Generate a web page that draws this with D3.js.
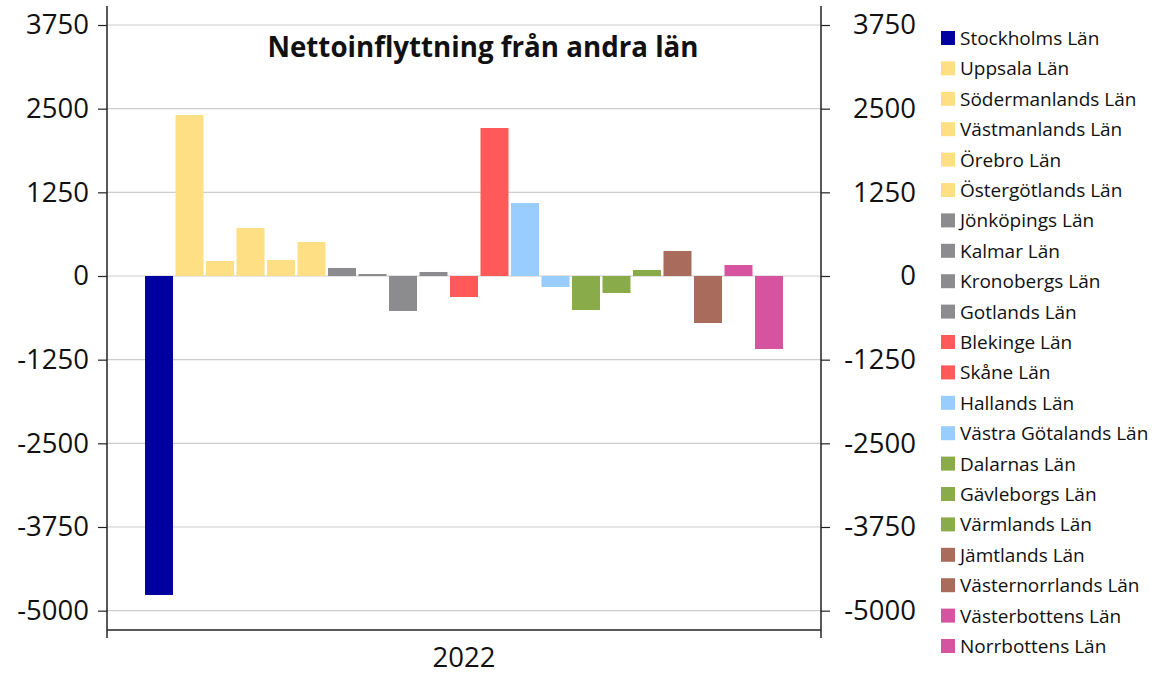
<!DOCTYPE html>
<html>
<head>
<meta charset="utf-8">
<script src="https://cdn.jsdelivr.net/npm/d3@7"></script>
<style>
  body { margin: 0; background: #fff; }
  svg { font-family: "Open Sans", "Noto Sans", sans-serif; }
</style>
</head>
<body>
<script>
const regions = ["Stockholms Län", "Uppsala Län", "Södermanlands Län", "Västmanlands Län", "Örebro Län",
  "Östergötlands Län", "Jönköpings Län", "Kalmar Län", "Kronobergs Län", "Gotlands Län", "Blekinge Län",
  "Skåne Län", "Hallands Län", "Västra Götalands Län", "Dalarnas Län", "Gävleborgs Län", "Värmlands Län",
  "Jämtlands Län", "Västernorrlands Län", "Västerbottens Län", "Norrbottens Län"];
const values = [-4766, 2405, 224, 717, 239, 508, 120, 30, -523, 60, -314, 2211, 1091, -164, -508, -254, 90, 374, -702, 164, -1091];
const colors = ["#0000a0", "#fedf83", "#fedf83", "#fedf83", "#fedf83", "#fedf83", "#8c8c8e", "#8c8c8e",
  "#8c8c8e", "#8c8c8e", "#ff5959", "#ff5959", "#99ccff", "#99ccff", "#89ab4a", "#89ab4a", "#89ab4a",
  "#a86b5c", "#a86b5c", "#d6549f", "#d6549f"];
const years = ["2022"];
const yTicks = [-5000, -3750, -2500, -1250, 0, 1250, 2500, 3750];
const title = "Nettoinflyttning från andra län";

const W = 1154, H = 676;
const m = { left: 107, right: 821, top: 6, bottom: 630 };

const svg = d3.select("body").append("svg")
  .attr("width", W).attr("height", H);

const y = d3.scaleLinear().domain([-5289, 4034]).range([m.bottom, m.top]);

const x0 = d3.scaleBand().domain(years).range([m.left, m.right]).paddingOuter(0.0596).paddingInner(0);
const x1 = d3.scaleBand().domain(regions).range([0, x0.bandwidth()]).paddingInner(0.082).paddingOuter(0);

// grid
svg.append("g").selectAll("line").data(yTicks).enter().append("line")
  .attr("x1", m.left).attr("x2", m.right)
  .attr("y1", d => y(d)).attr("y2", d => y(d))
  .attr("stroke", "#cccccc").attr("stroke-width", 1.2);

// bars
const g = svg.append("g").attr("transform", "translate(" + x0("2022") + ",0)");
g.selectAll("rect").data(values).enter().append("rect")
  .attr("x", (d, i) => x1(regions[i]))
  .attr("width", x1.bandwidth())
  .attr("y", d => y(Math.max(0, d)))
  .attr("height", d => Math.abs(y(d) - y(0)))
  .attr("fill", (d, i) => colors[i]);

// axes
const fmt = d => String(d);
const axL = svg.append("g").attr("transform", "translate(" + m.left + ",0)")
  .call(d3.axisLeft(y).tickValues(yTicks).tickSize(9).tickPadding(9).tickFormat(fmt));
const axR = svg.append("g").attr("transform", "translate(" + m.right + ",0)")
  .call(d3.axisRight(y).tickValues(yTicks).tickSize(9).tickPadding(86).tickFormat(fmt));
axR.selectAll("text").attr("text-anchor", "end");
const axB = svg.append("g").attr("transform", "translate(0," + m.bottom + ")")
  .call(d3.axisBottom(x0).tickSize(0).tickPadding(17));
// end ticks on the x axis
svg.append("g").selectAll("line").data([m.left, m.right]).enter().append("line")
  .attr("x1", d => d).attr("x2", d => d).attr("y1", m.bottom).attr("y2", m.bottom + 8)
  .attr("stroke", "#222").attr("stroke-width", 1.5);

[axL, axR, axB].forEach(a => {
  a.select(".domain").attr("stroke", "#222").attr("stroke-width", 1.5);
  a.selectAll(".tick line").attr("stroke", "#222").attr("stroke-width", 1.2);
  a.selectAll("text").attr("font-size", 27.5).attr("fill", "#111")
    .attr("font-family", "'Open Sans', sans-serif");
});
axL.select(".domain").attr("d", "M0," + m.top + "V" + m.bottom);
axR.select(".domain").attr("d", "M0," + m.top + "V" + m.bottom);
axB.select(".domain").attr("d", "M" + m.left + ",0H" + m.right);

// title
svg.append("text").attr("x", 483).attr("y", 57).attr("text-anchor", "middle")
  .attr("font-size", 27.7).attr("font-weight", "bold").attr("fill", "#111")
  .text(title);

// legend
const leg = svg.append("g").attr("transform", "translate(941,31)");
const item = leg.selectAll("g").data(regions).enter().append("g")
  .attr("transform", (d, i) => "translate(0," + (i * 30.4) + ")");
item.append("rect").attr("width", 14).attr("height", 14).attr("fill", (d, i) => colors[i]);
item.append("text").attr("x", 19).attr("y", 14).attr("font-size", 19).attr("fill", "#111").text(d => d);
</script>
</body>
</html>
